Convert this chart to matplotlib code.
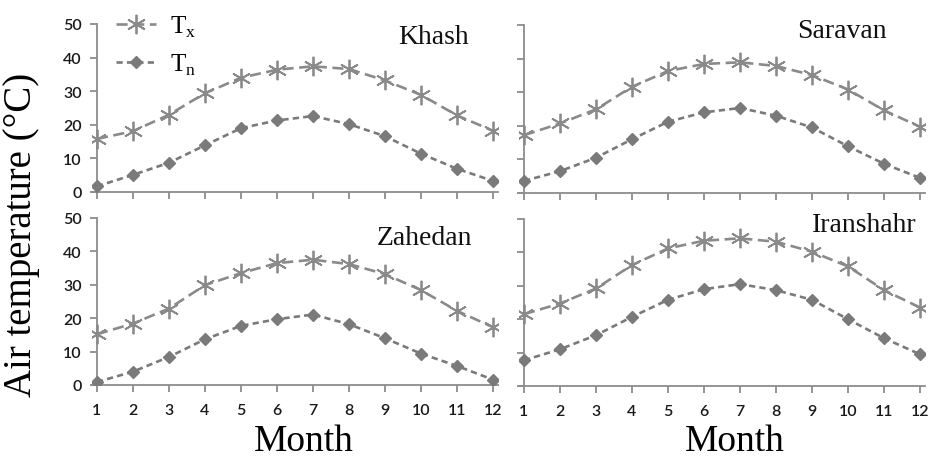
import matplotlib
matplotlib.use("Agg")
import matplotlib.pyplot as plt

# Monthly mean maximum (Tx) and minimum (Tn) air temperature, degrees C
months = list(range(1, 13))
stations = ["Khash", "Saravan", "Zahedan", "Iranshahr"]

khash_tx = [15.8, 18.1, 23.0, 29.4, 34.0, 36.4, 37.4, 36.6, 33.2, 28.9, 22.8, 18.2]
khash_tn = [1.7, 5.1, 8.7, 13.9, 19.0, 21.3, 22.6, 20.2, 16.6, 11.4, 6.9, 3.3]

saravan_tx = [17.2, 20.7, 24.9, 31.6, 36.3, 38.4, 38.9, 37.8, 35.1, 30.8, 24.6, 19.7]
saravan_tn = [3.6, 6.5, 10.5, 16.0, 21.2, 24.0, 25.3, 23.0, 19.5, 13.9, 8.7, 4.5]

zahedan_tx = [15.2, 18.4, 22.9, 29.9, 33.5, 36.5, 37.5, 36.2, 33.2, 28.4, 22.2, 17.3]
zahedan_tn = [0.9, 4.0, 8.4, 13.7, 17.7, 19.7, 21.1, 18.2, 14.0, 9.4, 5.7, 1.6]

iranshahr_tx = [21.5, 24.7, 29.2, 36.2, 41.2, 43.5, 44.2, 43.2, 40.2, 35.8, 28.7, 23.5]
iranshahr_tn = [7.7, 11.0, 15.2, 20.7, 25.8, 29.0, 30.5, 28.7, 25.8, 20.0, 14.3, 9.5]

y_ticks = [0, 10, 20, 30, 40, 50]

plt.rcParams["lines.scale_dashes"] = False
plt.rcParams["mathtext.fontset"] = "custom"
plt.rcParams["mathtext.rm"] = "Liberation Serif"

W, H = 938, 464
fig = plt.figure(figsize=(W / 100, H / 100), dpi=100)

SERIF = "Liberation Serif"
TICKFONT = "Lato"
AXIS_GREY = "#8c8c8c"
TX_COLOR = "#8a8a8a"
TN_COLOR = "#7a7a7a"


def px_axes(x0, x1, y0, y1):
    """Create axes from pixel extents (top-left origin)."""
    return fig.add_axes([x0 / W, 1 - y1 / H, (x1 - x0) / W, (y1 - y0) / H])


panels = [
    (khash_tx, khash_tn, (91.6, 498.4, 25, 193), (469, 38), False, True),
    (saravan_tx, saravan_tn, (518.6, 925.4, 26, 194), (887, 32), False, False),
    (zahedan_tx, zahedan_tn, (91.6, 498.4, 219, 386), (472, 239), True, True),
    (iranshahr_tx, iranshahr_tn, (518.6, 925.4, 220, 387), (917, 226), True, False),
]

axes = []
for name, (tx, tn, ext, title_xy, xlab, ylab) in zip(stations, panels):
    ax = px_axes(*ext)
    axes.append(ax)
    ax.plot(months, tx, color=TX_COLOR, lw=1.9, dashes=(8, 4),
            marker=(6, 2, 0), markersize=14, markeredgewidth=1.3,
            markeredgecolor=TX_COLOR, label=r"T$_\mathregular{x}$", zorder=3)
    ax.plot(months, tn, color=TN_COLOR, lw=1.9, dashes=(4.5, 3),
            marker="D", markersize=6.5, markerfacecolor=TN_COLOR,
            markeredgecolor=TN_COLOR, label=r"T$_\mathregular{n}$", zorder=3)

    ax.set_xlim(0.85, 12.15)
    ax.set_ylim(0, 50)
    ax.set_xticks(months)
    ax.set_yticks(y_ticks)
    for s in ("top", "right"):
        ax.spines[s].set_visible(False)
    ax.spines["left"].set_position(("data", 1))
    for s in ("left", "bottom"):
        ax.spines[s].set_color(AXIS_GREY)
        ax.spines[s].set_linewidth(1.3)
    ax.tick_params(axis="both", direction="out", length=5, width=1.3,
                   color=AXIS_GREY, labelcolor="#1a1a1a")
    ax.tick_params(axis="x", pad=8, labelbottom=xlab)
    ax.tick_params(axis="y", pad=6, labelleft=ylab)
    for lab in ax.get_xticklabels() + ax.get_yticklabels():
        lab.set_fontfamily(TICKFONT)
        lab.set_fontsize(11.5)
        lab.set_fontweight("semibold")
    ax.patch.set_alpha(0)

    fig.text(title_xy[0] / W, 1 - title_xy[1] / H, name, ha="right",
             va="center", fontsize=20, family=SERIF, color="#111111")

# Shared labels
fig.text(22 / W, 1 - 235 / H, "Air temperature (\u00b0C)", rotation=90,
         ha="center", va="center", fontsize=28, family=SERIF)
fig.text(304 / W, 1 - 442 / H, "Month", ha="center", va="center",
         fontsize=27, family=SERIF)
fig.text(735 / W, 1 - 442 / H, "Month", ha="center", va="center",
         fontsize=27, family=SERIF)

leg = axes[0].legend(loc="upper left", bbox_to_anchor=(106 / W, 1 - 5 / H),
                     bbox_transform=fig.transFigure, frameon=False,
                     prop={"family": SERIF, "size": 18}, handlelength=1.6,
                     labelspacing=0.5, handletextpad=0.55, borderaxespad=0)

fig.savefig("out.png", dpi=100)
